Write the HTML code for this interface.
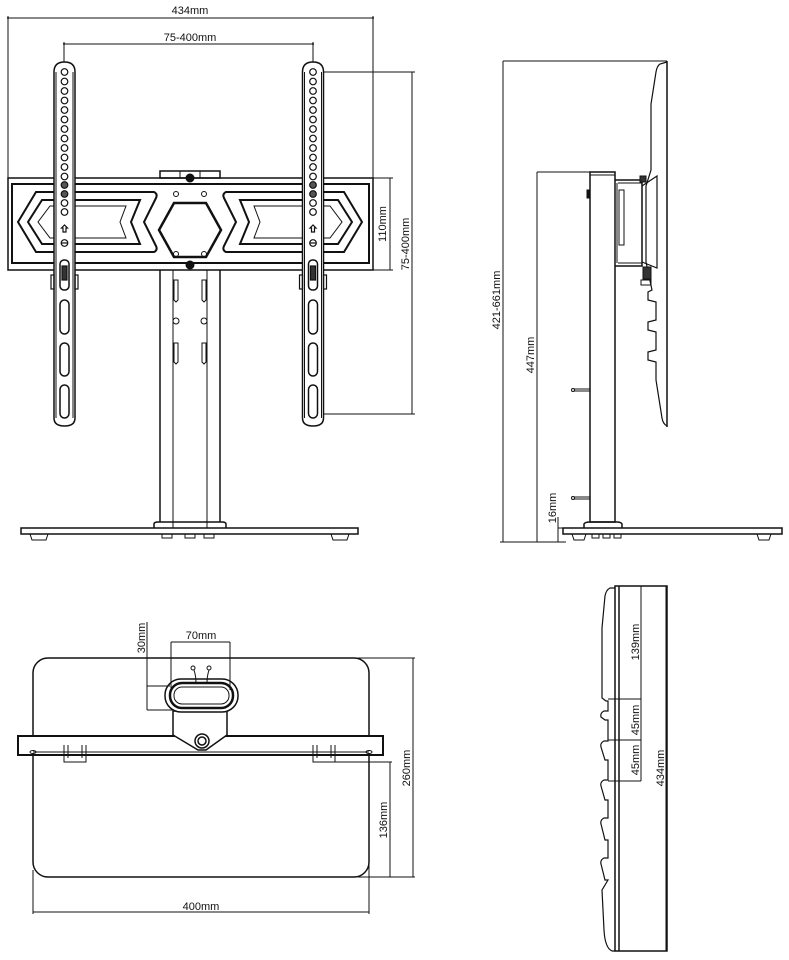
<!DOCTYPE html>
<html><head><meta charset="utf-8"><style>
html,body{margin:0;padding:0;background:#fff}
svg{display:block}
text{font-family:"Liberation Sans",sans-serif;font-size:11px;fill:#111}
</style></head><body>
<svg width="789" height="960" viewBox="0 0 789 960" xmlns="http://www.w3.org/2000/svg">
<g fill="none" stroke="#111" stroke-width="1">
<!-- ========== FRONT VIEW ========== -->
<!-- dims -->
<line x1="8" y1="18" x2="373" y2="18"/>
<line x1="8" y1="16" x2="8" y2="180"/>
<line x1="373" y1="16" x2="373" y2="180"/>
<line x1="64" y1="44" x2="313" y2="44"/>
<line x1="64" y1="42" x2="64" y2="62"/>
<line x1="313" y1="42" x2="313" y2="62"/>
<line x1="373" y1="178" x2="393" y2="178"/>
<line x1="373" y1="270" x2="393" y2="270"/>
<line x1="390" y1="178" x2="390" y2="270"/>
<line x1="318" y1="72" x2="415" y2="72"/>
<line x1="318" y1="414" x2="415" y2="414"/>
<line x1="412" y1="72" x2="412" y2="414"/>

<!-- top block -->
<rect x="160" y="171" width="60" height="7" stroke-width="1.5"/>
<line x1="180" y1="171" x2="180" y2="178"/><line x1="200" y1="171" x2="200" y2="178"/>
<!-- plate -->
<rect x="8" y="178" width="365" height="92" stroke-width="1.5"/>
<rect x="12" y="184" width="357" height="79" stroke-width="2"/>
<!-- left chevron -->
<path d="M36 192 L154 192 Q158 194 156 198 L144 222 L156 246 Q158 250 154 252 L36 252 L18 222 Z" stroke-width="2"/>
<path d="M42 200 L140 200 L131 222 L140 244 L42 244 L28 222 Z" stroke-width="2"/>
<path d="M50 206 L126 206 L120 222 L126 238 L50 238 L38 222 Z" stroke-width="1"/>
<!-- right chevron (mirror) -->
<g transform="translate(380,0) scale(-1,1)">
<path d="M36 192 L154 192 Q158 194 156 198 L144 222 L156 246 Q158 250 154 252 L36 252 L18 222 Z" stroke-width="2"/>
<path d="M42 200 L140 200 L131 222 L140 244 L42 244 L28 222 Z" stroke-width="2"/>
<path d="M50 206 L126 206 L120 222 L126 238 L50 238 L38 222 Z" stroke-width="1"/>
</g>
<!-- hexagon -->
<path d="M174 203 L206 203 L221 230 L206 257 L174 257 L159 230 Z" stroke-width="2.5"/>
<circle cx="176" cy="194" r="2.5"/><circle cx="204" cy="194" r="2.5"/>
<circle cx="176" cy="254" r="2.5"/><circle cx="204" cy="254" r="2.5"/>
<circle cx="190" cy="178" r="4" fill="#111"/><circle cx="190" cy="265" r="4" fill="#111"/>
<!-- pole -->
<line x1="160" y1="270" x2="160" y2="522" stroke-width="1.5"/>
<line x1="220" y1="270" x2="220" y2="522" stroke-width="1.5"/>
<line x1="173" y1="270" x2="173" y2="528"/>
<line x1="207" y1="270" x2="207" y2="528"/>
<path d="M174 280 L178 280 L178 300 L176 302 L174 300 Z"/><path d="M202 280 L206 280 L206 300 L204 302 L202 300 Z"/>
<circle cx="176" cy="321" r="3"/><circle cx="204" cy="321" r="3"/>
<path d="M174 343 L178 343 L178 362 L176 364 L174 362 Z"/><path d="M202 343 L206 343 L206 362 L204 364 L202 362 Z"/>
<!-- base -->
<path d="M154 528 L154 524 Q154 522 158 522 L222 522 Q226 522 226 524 L226 528" stroke-width="1.5"/>
<rect x="21" y="528" width="337" height="6" stroke-width="1.5"/>
<path d="M30 534 L48 534 L46 540 L32 540 Z"/><path d="M331 534 L349 534 L347 540 L333 540 Z"/>
<rect x="162" y="534" width="10" height="4"/><rect x="185" y="534" width="10" height="4"/><rect x="204" y="534" width="10" height="4"/>

<!-- arms -->
<g id="arm">
<path d="M54 72 Q54 62 64.5 62 Q75 62 75 72 L75 418 Q75 426 64.5 426 Q54 426 54 418 Z" fill="#fff" stroke-width="1.5"/>
<line x1="56" y1="72" x2="56" y2="418"/><line x1="73" y1="72" x2="73" y2="418"/>
<g stroke-width="1.2">
<circle cx="64.5" cy="72" r="3.3"/><circle cx="64.5" cy="81.5" r="3.3"/><circle cx="64.5" cy="91" r="3.3"/><circle cx="64.5" cy="100.5" r="3.3"/>
<circle cx="64.5" cy="110" r="3.3"/><circle cx="64.5" cy="119.5" r="3.3"/><circle cx="64.5" cy="129" r="3.3"/><circle cx="64.5" cy="138.5" r="3.3"/>
<circle cx="64.5" cy="148" r="3.3"/><circle cx="64.5" cy="157.5" r="3.3"/><circle cx="64.5" cy="167" r="3.3"/><circle cx="64.5" cy="176.5" r="3.3"/>
<circle cx="64.5" cy="185" r="3.3" fill="#555"/><circle cx="64.5" cy="194" r="3.3" fill="#555"/><circle cx="64.5" cy="203" r="3.3"/><circle cx="64.5" cy="212" r="3.3"/>
<path d="M64.5 225 L61.5 228 L63 228 L63 232 L66 232 L66 228 L67.5 228 Z"/>
<circle cx="64.5" cy="243" r="3.3"/><line x1="61.5" y1="243" x2="67.5" y2="243"/>
<rect x="60" y="260" width="9" height="30" rx="4" stroke-width="1.5"/>
<rect x="62" y="266" width="5" height="14" fill="#333"/>
<rect x="51" y="275" width="3" height="14"/><rect x="75" y="275" width="3" height="14"/>
<rect x="60" y="300" width="9" height="34" rx="4.5" stroke-width="1.5"/>
<rect x="60" y="343" width="9" height="33" rx="4.5" stroke-width="1.5"/>
<rect x="60" y="385" width="9" height="33" rx="4.5" stroke-width="1.5"/>
</g>
</g>
<use href="#arm" transform="translate(248.5,0)"/>

<!-- ========== SIDE VIEW ========== -->
<line x1="503" y1="61" x2="667" y2="61"/>
<line x1="503" y1="61" x2="503" y2="542"/>
<line x1="500" y1="542" x2="566" y2="542"/>
<line x1="537" y1="172" x2="615" y2="172"/>
<line x1="537" y1="172" x2="537" y2="542"/>
<line x1="558" y1="517" x2="558" y2="542"/>
<line x1="558" y1="528" x2="563" y2="528"/>
<!-- TV panel -->
<line x1="667" y1="61" x2="667" y2="427" stroke-width="1.5"/>
<path d="M667 62 L660 64 Q657 66 656 72 L651 104 L651 170 L646 186 L646 262 L652 290 L648 292 L648 300 L656 302 L656 320 L648 322 L648 330 L656 332 L656 350 L648 352 L648 360 L656 362 L656 380 L662 418 Q663 424 667 426" stroke-width="1.2"/>
<!-- pole -->
<rect x="590" y="172" width="25" height="350" stroke-width="1.5"/>
<line x1="590" y1="175" x2="615" y2="175"/>
<rect x="587" y="190" width="3" height="8" fill="#111"/>
<!-- bracket -->
<path d="M615 180 L642 180 L642 266 L615 266" stroke-width="1.5"/>
<line x1="618" y1="183" x2="642" y2="183"/>
<line x1="618" y1="263" x2="642" y2="263"/>
<line x1="617" y1="183" x2="617" y2="263"/>
<path d="M642 186 L657 176 L657 268 L642 262" stroke-width="1.2"/>
<rect x="619" y="190" width="5" height="55"/>
<rect x="640" y="176" width="6" height="6" fill="#333"/>
<rect x="643" y="267" width="8" height="12" fill="#333"/>
<rect x="641" y="280" width="10" height="5"/>
<!-- pegs -->
<line x1="574" y1="389" x2="590" y2="389"/><line x1="574" y1="391" x2="590" y2="391"/><circle cx="573" cy="390" r="1.5"/>
<line x1="574" y1="497" x2="590" y2="497"/><line x1="574" y1="499" x2="590" y2="499"/><circle cx="573" cy="498" r="1.5"/>
<!-- base -->
<path d="M584 528 L584 524 Q585 522 590 522 L617 522 Q621 522 622 524 L622 528" stroke-width="1.5"/>
<rect x="563" y="528" width="219" height="6" stroke-width="1.5"/>
<path d="M572 534 L586 534 L584 540 L574 540 Z"/><path d="M757 534 L771 534 L769 540 L759 540 Z"/>
<rect x="592" y="534" width="7" height="4"/><rect x="603" y="534" width="7" height="4"/><rect x="614" y="534" width="7" height="4"/>

<!-- ========== BOTTOM LEFT (TOP VIEW) ========== -->
<rect x="33" y="658" width="336" height="219" rx="15" stroke-width="1.5"/>
<rect x="18" y="736" width="365" height="19" fill="#fff" stroke-width="2"/>
<line x1="33" y1="752" x2="369" y2="752"/>
<path d="M64 745 L64 762 L86 762 L86 745"/><line x1="68" y1="745" x2="68" y2="758"/><line x1="82" y1="745" x2="82" y2="758"/>
<path d="M313 745 L313 762 L335 762 L335 745"/><line x1="317" y1="745" x2="317" y2="758"/><line x1="331" y1="745" x2="331" y2="758"/>
<ellipse cx="33" cy="752" rx="3" ry="1.5"/><ellipse cx="369" cy="752" rx="3" ry="1.5"/>
<!-- handle -->
<path d="M173 711 L227 711 L227 735 L206 750 L198 750 L173 735 Z" fill="#fff" stroke-width="1.5"/>
<circle cx="202" cy="741" r="7" stroke-width="1.5"/><circle cx="202" cy="741" r="4" stroke-width="1.5"/>
<rect x="165" y="679" width="73" height="33" rx="16" fill="#fff" stroke-width="1.5"/>
<rect x="170" y="683" width="63" height="25" rx="12" stroke-width="2.5"/>
<rect x="174" y="687" width="55" height="17" rx="8"/>
<path d="M196 683 Q196 676 194 670 M207 683 Q207 676 209 670"/>
<circle cx="193" cy="668" r="2"/><circle cx="209" cy="668" r="2"/>
<!-- dims -->
<line x1="171" y1="642" x2="230" y2="642"/>
<line x1="171" y1="642" x2="171" y2="690"/><line x1="230" y1="642" x2="230" y2="690"/>
<line x1="147" y1="622" x2="147" y2="710"/>
<line x1="147" y1="686" x2="170" y2="686"/><line x1="147" y1="710" x2="172" y2="710"/>
<line x1="358" y1="658" x2="415" y2="658"/>
<line x1="358" y1="877" x2="415" y2="877"/>
<line x1="413" y1="658" x2="413" y2="877"/>
<line x1="330" y1="762" x2="392" y2="762"/>
<line x1="390" y1="762" x2="390" y2="877"/>
<line x1="33" y1="870" x2="33" y2="914"/><line x1="369" y1="755" x2="369" y2="914"/>
<line x1="33" y1="912" x2="369" y2="912"/>

<!-- ========== BOTTOM RIGHT (ARM SIDE) ========== -->
<rect x="615" y="586" width="52" height="365" stroke-width="1.5"/>
<line x1="619" y1="586" x2="619" y2="951" stroke-width="1.5"/>
<path d="M615 588 L610 588 Q606 590 605 596 L602 628 L602 698 L606 701 L608 701 L608 711 L604 711 Q600 713 601 717 L605 720 L608 720 L608 741 L604 741 Q600 743 601 747 L605 760 L608 760 L608 780 L604 780 Q600 782 601 786 L605 800 L608 800 L608 818 L604 818 Q600 820 601 824 L605 840 L608 840 L608 858 L604 858 Q600 860 601 864 L605 880 L608 880 L602 890 L604 930 Q605 948 612 951 L615 951" stroke-width="1.2"/>
<line x1="641" y1="586" x2="641" y2="781"/>
<line x1="608" y1="699" x2="641" y2="699"/>
<line x1="608" y1="740" x2="641" y2="740"/>
<line x1="608" y1="781" x2="641" y2="781"/>
<line x1="666" y1="586" x2="666" y2="951"/>
</g>

<!-- arrow ticks -->
<g fill="#111">
<circle cx="8" cy="18" r="1"/><circle cx="373" cy="18" r="1"/>
<circle cx="64" cy="44" r="1"/><circle cx="313" cy="44" r="1"/>
</g>

<!-- labels -->
<text x="190" y="14" text-anchor="middle">434mm</text>
<text x="190" y="41" text-anchor="middle">75-400mm</text>
<text transform="translate(386,224) rotate(-90)" text-anchor="middle">110mm</text>
<text transform="translate(409,244) rotate(-90)" text-anchor="middle">75-400mm</text>
<text transform="translate(500,300) rotate(-90)" text-anchor="middle">421-661mm</text>
<text transform="translate(534,355) rotate(-90)" text-anchor="middle">447mm</text>
<text transform="translate(556,508) rotate(-90)" text-anchor="middle">16mm</text>
<text x="201" y="639" text-anchor="middle">70mm</text>
<text transform="translate(145,638) rotate(-90)" text-anchor="middle">30mm</text>
<text transform="translate(410,768) rotate(-90)" text-anchor="middle">260mm</text>
<text transform="translate(387,820) rotate(-90)" text-anchor="middle">136mm</text>
<text x="201" y="910" text-anchor="middle">400mm</text>
<text transform="translate(639,642) rotate(-90)" text-anchor="middle">139mm</text>
<text transform="translate(639,720) rotate(-90)" text-anchor="middle">45mm</text>
<text transform="translate(639,760) rotate(-90)" text-anchor="middle">45mm</text>
<text transform="translate(664,768) rotate(-90)" text-anchor="middle">434mm</text>
</svg>
</body></html>
